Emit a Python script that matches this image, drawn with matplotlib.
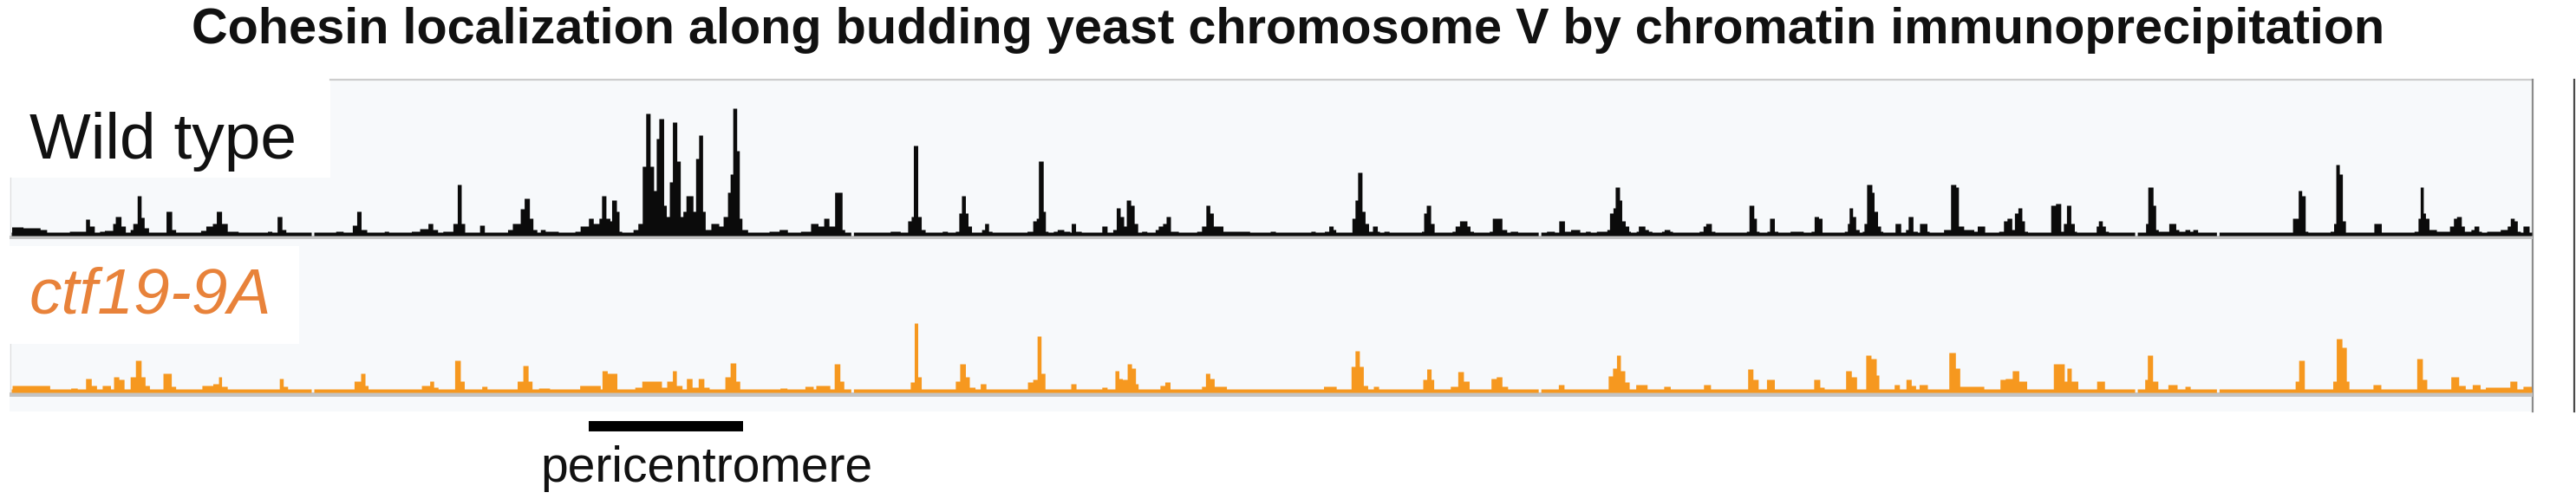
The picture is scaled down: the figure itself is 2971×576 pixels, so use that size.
import matplotlib
matplotlib.use("Agg")
import matplotlib.pyplot as plt
from matplotlib.patches import Rectangle

plt.rcParams["font.family"] = ["Liberation Sans", "DejaVu Sans"]

# chromosome V, kb
chrom_len = 577.0
floor_level = 4          # background signal level
pericentromere_kb = (132.5, 167.8)

# (start kb, end kb, signal) - signal, everything else = floor
wt_peaks = [
    (0.5, 3.1, 10), (3.1, 7.0, 9), (7.0, 8.5, 7), (13.7, 17.4, 5), (17.4, 18.3, 19), (18.3, 19.4, 11),
    (20.6, 21.7, 5), (21.7, 23.6, 6), (23.6, 24.2, 14), (24.2, 25.5, 22), (25.5, 26.5, 11), (27.6, 28.2, 7),
    (28.2, 29.2, 14), (29.2, 30.1, 46), (30.1, 30.8, 21), (30.8, 31.8, 9), (35.8, 37.1, 28), (37.1, 38.0, 7),
    (43.7, 44.9, 6), (44.9, 46.4, 11), (46.4, 47.3, 14), (47.3, 48.5, 28), (48.5, 49.8, 14), (49.8, 52.3, 5),
    (59.0, 60.0, 5), (61.2, 62.3, 22), (62.3, 63.2, 7), (69.0, 69.6, 0), (74.6, 76.3, 5), (78.4, 79.4, 12),
    (79.4, 80.4, 28), (80.4, 81.7, 7), (85.7, 86.7, 5), (91.9, 93.8, 5), (93.8, 95.7, 8), (95.7, 96.8, 14),
    (96.8, 97.9, 7), (99.1, 101.4, 5), (101.4, 102.4, 14), (102.4, 103.3, 59), (103.3, 104.1, 14),
    (107.5, 108.6, 12), (113.9, 115.0, 7), (115.0, 116.8, 14), (116.8, 117.7, 31), (117.7, 118.9, 43),
    (118.9, 119.7, 20), (119.7, 120.6, 7), (121.4, 122.5, 7), (122.5, 125.5, 5), (129.3, 130.5, 5),
    (130.5, 132.4, 11), (132.4, 133.5, 20), (133.5, 134.8, 14), (134.8, 135.4, 20), (135.4, 136.4, 46),
    (136.4, 137.3, 20), (137.3, 137.7, 17), (137.7, 138.8, 41), (138.8, 139.4, 28), (139.4, 140.0, 5),
    (142.6, 143.7, 7), (143.7, 144.7, 14), (144.7, 145.5, 80), (145.5, 146.5, 141), (146.5, 147.3, 80),
    (147.3, 147.9, 52), (147.9, 148.5, 112), (148.5, 149.6, 135), (149.6, 150.2, 35), (150.2, 150.9, 22),
    (150.9, 151.6, 62), (151.6, 152.6, 131), (152.6, 153.4, 86), (153.4, 154.0, 22), (154.0, 154.7, 28),
    (154.7, 156.3, 46), (156.3, 156.9, 28), (156.9, 157.6, 89), (157.6, 158.5, 116), (158.5, 159.1, 28),
    (159.1, 160.4, 7), (160.4, 162.2, 14), (162.2, 163.2, 11), (163.2, 164.2, 22), (164.2, 164.8, 50),
    (164.8, 165.4, 71), (165.4, 166.3, 147), (166.3, 166.9, 98), (166.9, 167.5, 20), (167.5, 168.8, 7),
    (173.7, 176.0, 5), (176.0, 177.9, 7), (180.9, 183.2, 5), (183.2, 184.9, 14), (184.9, 186.2, 11),
    (186.2, 187.4, 20), (187.4, 188.7, 11), (188.7, 190.4, 50), (190.4, 191.0, 7), (192.4, 193.0, 0),
    (201.4, 203.7, 5), (205.4, 206.2, 17), (206.2, 206.7, 22), (206.7, 207.7, 104), (207.7, 208.5, 22),
    (208.5, 209.4, 7), (213.3, 214.5, 5), (216.3, 217.1, 5), (217.1, 217.7, 26), (217.7, 218.6, 46),
    (218.6, 219.2, 26), (219.2, 220.0, 11), (222.3, 223.0, 7), (223.0, 223.9, 14), (223.9, 224.7, 5),
    (232.7, 234.0, 5), (234.0, 234.8, 17), (234.8, 235.3, 20), (235.3, 236.4, 86), (236.4, 236.9, 28),
    (236.9, 237.5, 5), (238.7, 239.6, 5), (239.6, 241.1, 7), (241.1, 242.5, 5), (242.8, 243.8, 14),
    (243.8, 245.1, 5), (249.8, 251.0, 11), (252.3, 253.1, 7), (253.1, 254.0, 32), (254.0, 254.8, 22),
    (254.8, 255.4, 11), (255.4, 256.4, 41), (256.4, 257.2, 35), (257.2, 258.0, 14), (258.9, 260.1, 5),
    (262.0, 262.7, 7), (262.7, 263.7, 11), (263.7, 264.5, 14), (264.5, 265.5, 22), (265.5, 267.3, 5),
    (271.5, 272.6, 5), (272.6, 273.6, 11), (273.6, 274.5, 35), (274.5, 275.3, 26), (275.3, 277.5, 11),
    (277.5, 283.6, 5), (288.3, 289.5, 5), (297.6, 298.6, 5), (300.7, 301.7, 5), (301.7, 302.7, 11),
    (302.7, 303.3, 7), (307.0, 307.7, 20), (307.7, 308.3, 41), (308.3, 309.3, 73), (309.3, 310.0, 28),
    (310.0, 310.8, 14), (310.8, 311.7, 5), (311.7, 312.8, 11), (312.8, 313.3, 5), (314.3, 315.5, 5),
    (322.9, 323.4, 5), (323.4, 324.0, 26), (324.0, 325.0, 35), (325.0, 325.8, 14), (329.9, 330.6, 5),
    (330.6, 331.6, 11), (331.6, 333.3, 17), (333.3, 334.0, 11), (334.0, 334.8, 5), (338.4, 339.1, 5),
    (339.1, 341.3, 20), (341.3, 342.4, 7), (343.2, 344.9, 5), (349.6, 350.2, 0), (351.5, 353.3, 5),
    (354.3, 355.6, 17), (355.6, 357.0, 5), (357.0, 359.1, 7), (360.4, 361.5, 5), (362.9, 365.3, 5),
    (365.3, 365.9, 7), (365.9, 366.7, 26), (366.7, 367.2, 32), (367.2, 368.2, 56), (368.2, 368.7, 41),
    (368.7, 369.5, 17), (369.5, 370.3, 11), (370.3, 370.7, 5), (372.0, 372.5, 5), (372.5, 374.0, 11),
    (374.0, 374.8, 7), (374.8, 375.6, 5), (377.8, 378.4, 5), (378.4, 379.7, 7), (379.7, 380.3, 5),
    (386.4, 387.3, 5), (387.3, 387.9, 11), (387.9, 389.2, 14), (389.2, 390.0, 5), (397.2, 397.8, 5),
    (397.8, 398.9, 35), (398.9, 399.5, 20), (399.5, 400.1, 5), (401.9, 402.5, 5), (402.5, 403.6, 20),
    (403.6, 404.4, 5), (407.2, 410.2, 5), (412.0, 412.7, 5), (412.7, 413.7, 22), (413.7, 414.5, 20),
    (419.6, 420.3, 5), (420.3, 420.7, 14), (420.7, 421.5, 32), (421.5, 422.2, 22), (422.2, 423.0, 7),
    (423.7, 424.1, 5), (424.1, 424.7, 14), (424.7, 425.9, 59), (425.9, 426.4, 50), (426.4, 427.2, 28),
    (427.2, 427.9, 11), (427.9, 428.4, 5), (431.2, 432.5, 14), (433.6, 434.2, 7), (434.2, 435.3, 22),
    (435.3, 436.3, 5), (436.8, 438.5, 14), (438.5, 439.0, 5), (442.3, 443.9, 7), (443.9, 445.1, 59),
    (445.1, 445.7, 56), (445.7, 446.9, 11), (446.9, 449.2, 7), (449.2, 450.0, 5), (450.0, 451.7, 11),
    (454.9, 456.0, 5), (456.0, 456.8, 17), (456.8, 457.9, 20), (457.9, 458.5, 7), (458.5, 459.3, 26),
    (459.3, 460.2, 32), (460.2, 460.8, 17), (460.8, 461.5, 5), (466.8, 467.9, 35), (467.9, 469.1, 37),
    (469.1, 469.7, 5), (469.7, 470.4, 14), (470.4, 471.4, 35), (471.4, 472.2, 14), (472.2, 472.7, 5),
    (477.2, 477.7, 11), (477.7, 478.6, 17), (478.6, 479.3, 11), (479.3, 480.0, 5), (486.0, 486.6, 0),
    (488.5, 489.0, 14), (489.0, 490.2, 56), (490.2, 490.8, 35), (490.8, 491.4, 7), (491.4, 493.8, 5),
    (493.8, 495.4, 14), (495.4, 496.1, 7), (496.1, 497.5, 5), (497.5, 498.6, 7), (498.6, 499.3, 5),
    (499.3, 500.4, 7), (504.7, 505.3, 0), (522.1, 523.4, 20), (523.4, 524.2, 52), (524.2, 525.0, 46),
    (525.0, 525.6, 5), (530.7, 531.5, 5), (531.5, 532.0, 14), (532.0, 532.8, 82), (532.8, 533.5, 71),
    (533.5, 534.2, 17), (540.7, 542.4, 14), (549.9, 550.8, 5), (550.8, 551.3, 20), (551.3, 552.0, 56),
    (552.0, 552.5, 26), (552.5, 553.3, 20), (553.3, 555.0, 7), (555.0, 558.0, 5), (558.0, 558.9, 11),
    (558.9, 559.6, 20), (559.6, 560.7, 22), (560.7, 561.4, 11), (561.4, 562.9, 5), (562.9, 563.6, 7),
    (563.6, 564.7, 11), (564.7, 565.3, 5), (566.5, 569.6, 5), (569.6, 571.2, 7), (571.2, 571.9, 11),
    (571.9, 572.8, 20), (572.8, 573.5, 17), (573.5, 574.2, 5), (574.8, 576.2, 11),
]

ctf_peaks = [
    (0.6, 9.2, 8), (14.0, 15.5, 5), (17.4, 18.7, 16), (18.7, 19.9, 8), (21.2, 23.1, 8), (23.8, 25.0, 18),
    (25.0, 26.2, 15), (27.6, 28.8, 18), (28.8, 30.1, 37), (30.1, 31.0, 18), (31.0, 32.0, 8), (35.1, 37.0, 22),
    (37.0, 38.0, 7), (44.0, 46.5, 8), (46.5, 47.8, 10), (47.8, 48.5, 18), (48.5, 49.8, 7), (61.7, 62.6, 16),
    (62.6, 63.6, 7), (69.0, 69.6, 0), (78.8, 80.3, 13), (80.3, 81.3, 22), (81.3, 82.0, 8), (94.2, 96.1, 8),
    (96.1, 97.0, 13), (97.0, 98.0, 6), (101.8, 103.1, 37), (103.1, 104.0, 13), (108.0, 109.2, 7),
    (116.1, 117.4, 13), (117.4, 118.6, 31), (118.6, 119.5, 13), (121.0, 123.5, 5), (130.4, 135.1, 8),
    (135.5, 136.7, 25), (136.7, 138.9, 22), (143.0, 144.6, 6), (144.6, 149.1, 13), (149.1, 150.3, 6),
    (150.3, 151.6, 13), (151.6, 152.5, 25), (152.5, 153.8, 8), (154.8, 156.1, 16), (156.1, 157.5, 6),
    (157.5, 158.8, 16), (158.8, 160.0, 6), (163.6, 164.8, 18), (164.8, 166.1, 34), (166.1, 167.0, 13),
    (176.2, 177.8, 5), (181.9, 183.8, 7), (184.4, 187.6, 8), (188.6, 189.9, 33), (189.9, 190.8, 13),
    (192.4, 193.0, 0), (206.0, 206.9, 12), (206.9, 207.7, 80), (207.7, 208.5, 18), (216.3, 217.3, 13),
    (217.3, 218.6, 33), (218.6, 219.5, 18), (219.5, 220.8, 6), (222.0, 223.3, 10), (232.8, 234.0, 12),
    (234.0, 235.0, 15), (235.0, 235.9, 65), (235.9, 236.8, 22), (242.7, 243.9, 10), (249.8, 251.0, 6),
    (252.8, 253.7, 25), (253.7, 254.5, 16), (254.5, 255.6, 15), (255.6, 256.6, 33), (256.6, 257.5, 28),
    (257.5, 258.1, 10), (263.1, 264.2, 8), (264.2, 265.4, 12), (272.6, 273.5, 7), (273.5, 274.5, 22),
    (274.5, 275.5, 16), (275.5, 278.3, 7), (300.5, 303.4, 7), (306.8, 307.7, 30), (307.7, 308.7, 48),
    (308.7, 309.6, 30), (309.6, 310.6, 8), (311.9, 313.1, 7), (323.2, 324.1, 15), (324.1, 325.1, 27),
    (325.1, 325.7, 15), (329.5, 331.2, 7), (331.2, 332.5, 24), (332.5, 333.8, 13), (338.8, 340.0, 16),
    (340.0, 341.3, 18), (341.3, 342.6, 7), (349.6, 350.2, 0), (354.2, 355.5, 9), (365.6, 366.6, 19),
    (366.6, 367.5, 28), (367.5, 368.4, 43), (368.4, 369.4, 25), (369.4, 370.4, 12), (371.9, 374.5, 9),
    (378.3, 379.8, 7), (387.4, 389.0, 9), (397.5, 398.7, 27), (398.7, 399.9, 15), (401.8, 403.6, 15),
    (412.6, 414.0, 15), (414.0, 415.0, 6), (419.9, 421.2, 25), (421.2, 422.4, 18), (424.5, 425.7, 43),
    (425.7, 426.9, 39), (426.9, 427.5, 20), (431.0, 432.2, 9), (433.7, 434.9, 15), (434.9, 435.9, 8),
    (436.7, 438.6, 9), (443.5, 445.0, 46), (445.0, 446.0, 28), (446.0, 451.5, 7), (455.2, 456.4, 15),
    (456.4, 458.0, 16), (458.0, 459.5, 25), (459.5, 461.3, 13), (467.4, 469.9, 33), (469.9, 470.5, 13),
    (470.5, 471.5, 28), (471.5, 473.0, 13), (477.3, 479.1, 13), (486.0, 486.6, 0), (488.3, 488.9, 15),
    (488.9, 490.1, 43), (490.1, 491.3, 13), (493.6, 495.7, 9), (497.5, 498.7, 7), (504.7, 505.3, 0),
    (522.7, 523.5, 13), (523.5, 524.8, 37), (531.3, 532.1, 13), (532.1, 533.4, 62), (533.4, 534.4, 52),
    (534.4, 535.0, 13), (540.5, 542.3, 9), (550.5, 551.8, 39), (551.8, 552.8, 15), (558.3, 560.1, 18),
    (560.1, 561.6, 8), (563.2, 565.0, 9), (566.2, 571.8, 6), (571.8, 573.4, 13), (574.8, 576.7, 7),
]

W, H = 2971, 576
BG = "#f7f9fb"
BLACK = "#0b0b0b"
ORANGE = "#f6981f"
LABEL_ORANGE = "#e8823a"


def step_xy(peaks, start=0.4, end=576.8):
    xs, ys = [start], [floor_level]
    for s, e, v in peaks:
        xs += [s, e]
        ys += [v, floor_level]
    xs.append(end)
    ys.append(floor_level)
    return xs, ys


def px_axes(fig, left, top, right, bottom):
    return fig.add_axes([left / W, 1 - bottom / H, (right - left) / W, (bottom - top) / H])


fig = plt.figure(figsize=(W / 100, H / 100), dpi=100)

# background / decoration layer in pixel coordinates
bg = fig.add_axes([0, 0, 1, 1])
bg.set_xlim(0, W)
bg.set_ylim(H, 0)
bg.axis("off")
bg.add_patch(Rectangle((11, 92), 2910, 383, facecolor=BG, edgecolor="none"))
bg.add_patch(Rectangle((11, 92), 370, 113, facecolor="white", edgecolor="none"))
bg.add_patch(Rectangle((11, 284), 334, 113, facecolor="white", edgecolor="none"))
bg.plot([381, 2921], [92, 92], color="#cdcdcd", lw=1.6)
bg.plot([2921, 2921], [92, 475], color="#8c8c8c", lw=1.6)
bg.plot([2969, 2969], [92, 475], color="#4a4a4a", lw=1.6)
bg.plot([11.5, 11.5], [205, 272], color="#dedede", lw=0.8)
bg.plot([11.5, 11.5], [397, 453], color="#dedede", lw=0.8)

bg.text(W / 2, 50, "Cohesin localization along budding yeast chromosome V by chromatin immunoprecipitation",
        ha="center", va="baseline", fontsize=41.5, fontweight="bold", color="#111111")
bg.text(34, 183, "Wild type", ha="left", va="baseline", fontsize=54, color="#111111")
bg.text(34, 362, "ctf19-9A", ha="left", va="baseline", fontsize=54, style="italic", color=LABEL_ORANGE)

# tracks: 1 signal unit = 1 pixel
tracks = [
    (wt_peaks, BLACK, (11, 92, 2921, 282), 180),
    (ctf_peaks, ORANGE, (11, 282, 2921, 463), 171),
]
track_axes = []
for peaks, color, box, top in tracks:
    ax = px_axes(fig, *box)
    ax.set_xlim(0, chrom_len)
    ax.set_ylim(-10, top)
    ax.axis("off")
    ax.axhspan(-4.5, 0, color="#c3c3c3", lw=0)
    xs, ys = step_xy(peaks)
    ax.fill_between(xs, 0, ys, step="post", color=color, lw=0)
    track_axes.append(ax)

ax_ctf = track_axes[1]
ax_ctf.plot(pericentromere_kb, [-39, -39], color="black", lw=8.6, solid_capstyle="butt", clip_on=False)
bg.text(815, 556, "pericentromere", ha="center", va="baseline", fontsize=41, color="#111111")

fig.savefig("out.png", dpi=100)
